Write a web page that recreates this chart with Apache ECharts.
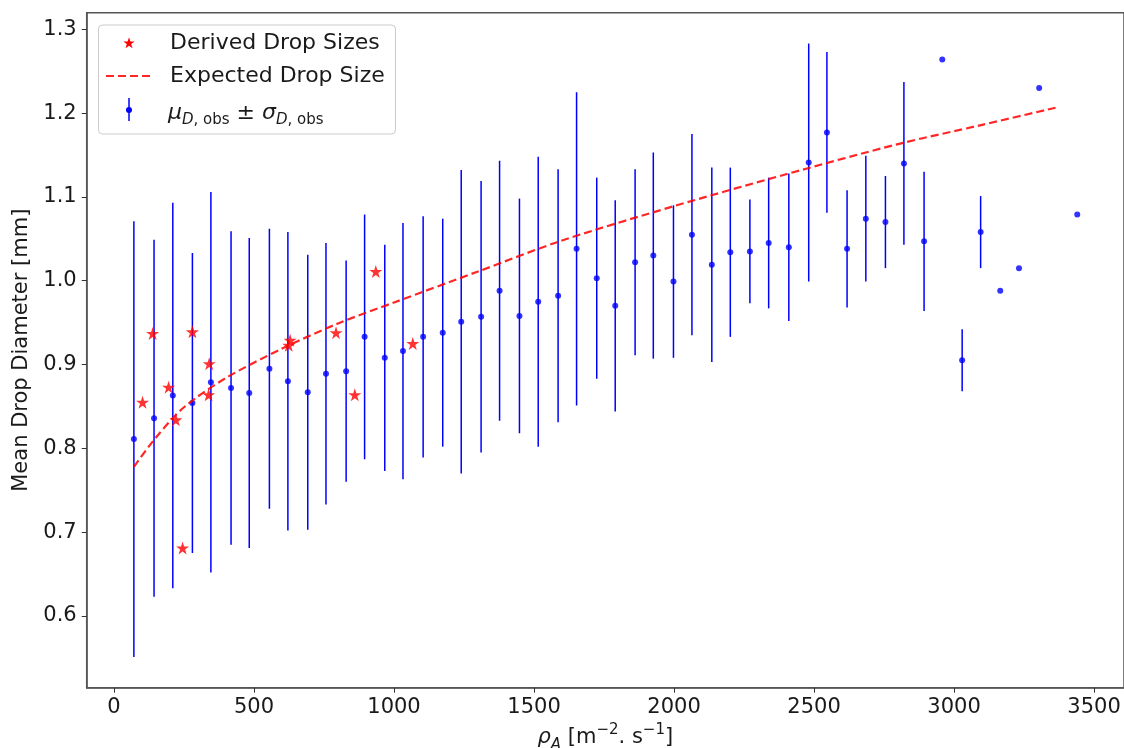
<!DOCTYPE html>
<html>
<head>
<meta charset="utf-8">
<script src="https://cdn.jsdelivr.net/npm/echarts@6/dist/echarts.min.js"></script>
<style>
html,body{margin:0;padding:0;background:#fff;}
#chart{width:1124px;height:748px;}
</style>
</head>
<body>
<div id="chart"></div>
<script>
// ---- data ----
const obsRho = [71,143,210,280,346,418,483,555,621,692,757,829,895,967,1032,1104,1174,1240,1311,1377,1448,1515,1586,1652,1724,1790,1861,1926,1998,2064,2135,2201,2271,2338,2410,2481,2546,2618,2685,2755,2821,2893,2958,3029,3095,3165,3232,3304,3440];
const obsMean = [0.811,0.836,0.863,0.854,0.879,0.872,0.866,0.895,0.880,0.867,0.889,0.892,0.933,0.908,0.916,0.933,0.938,0.951,0.957,0.988,0.958,0.975,0.982,1.038,1.003,0.970,1.022,1.030,0.999,1.055,1.019,1.034,1.035,1.045,1.040,1.141,1.177,1.038,1.074,1.070,1.140,1.047,1.264,0.905,1.058,0.988,1.015,1.230,1.079];
const obsStd = [0.260,0.213,0.230,0.179,0.227,0.187,0.185,0.167,0.178,0.164,0.156,0.132,0.146,0.135,0.153,0.144,0.136,0.181,0.162,0.155,0.140,0.173,0.151,0.187,0.120,0.126,0.111,0.123,0.091,0.120,0.116,0.101,0.062,0.078,0.088,0.142,0.096,0.070,0.075,0.055,0.097,0.083,0,0.037,0.043,0,0,0,0];

const derivedRho = [102,138,195,221,245,280,338,340,624,629,793,860,935,1067];
const derivedD = [0.855,0.937,0.873,0.834,0.681,0.939,0.864,0.901,0.923,0.929,0.938,0.864,1.011,0.925];

const expRho = [71,150,250,400,600,800,1000,1300,1600,2000,2400,2800,3100,3370];
const expD = [0.778,0.813,0.849,0.884,0.919,0.949,0.974,1.011,1.048,1.089,1.127,1.163,1.186,1.207];

const xTicks = [0,500,1000,1500,2000,2500,3000,3500];
const yTicks = [0.6,0.7,0.8,0.9,1.0,1.1,1.2,1.3];

const legendLabels = ['Derived Drop Sizes','Expected Drop Size'];

// ---- build ----
const FONT = 'DejaVu Sans';
const TXT = '#1a1a1a';
const STAR_PTS = [[50,0],[61.23,34.55],[97.55,34.55],[68.17,55.9],[79.39,90.45],[50,69.1],[20.61,90.45],[31.83,55.9],[2.45,34.55],[38.77,34.55]];
const STAR = 'path://M' + STAR_PTS.map(p=>p.join(',')).join(' L') + ' Z';
function starAt(cx, cy, size){
  const k = size/100;
  return STAR_PTS.map(p=>[cx + (p[0]-50)*k, cy + (p[1]-47)*k]);
}

const errData = obsRho.map((x,i)=>[x, obsMean[i]-obsStd[i], obsMean[i]+obsStd[i], obsStd[i]]);
const meanData = obsRho.map((x,i)=>[x, obsMean[i]]);
const starData = derivedRho.map((x,i)=>[x, derivedD[i]]);
const lineData = expRho.map((x,i)=>[x, expD[i]]);

const chart = echarts.init(document.getElementById('chart'), null, {renderer:'canvas'});

const subStyle = {fontFamily:FONT, fontSize:15, color:TXT, verticalAlign:'bottom', lineHeight:14};
const subItal = Object.assign({}, subStyle, {fontStyle:'italic'});

const option = {
  backgroundColor:'#fff',
  animation:false,
  grid:{left:86.7, right:0, top:12.7, bottom:60.3, containLabel:false, outerBoundsMode:'none',
        show:true, borderColor:'#555', borderWidth:1.5, backgroundColor:'transparent'},
  xAxis:{
    type:'value', min:-97.5, max:3607,
    name:'{i|ρ}{si|A}{n| [m}{sup|−2}{n|. s}{sup|−1}{n|]}',
    nameLocation:'middle', nameGap:33,
    nameTextStyle:{
      fontFamily:FONT, fontSize:21, color:TXT, lineHeight:30,
      rich:{
        i:{fontFamily:FONT, fontSize:21, fontStyle:'italic', color:TXT, lineHeight:30},
        n:{fontFamily:FONT, fontSize:21, color:TXT, lineHeight:30},
        si:{fontFamily:FONT, fontSize:15, fontStyle:'italic', color:TXT, verticalAlign:'bottom', lineHeight:14},
        sup:{fontFamily:FONT, fontSize:15, color:TXT, verticalAlign:'top', lineHeight:14}
      }
    },
    axisLine:{show:true, onZero:false, lineStyle:{color:'#555', width:1.5}},
    axisTick:{show:true, length:5, lineStyle:{color:'#333', width:1}, customValues:xTicks},
    axisLabel:{fontFamily:FONT, fontSize:21, color:TXT, margin:9, customValues:xTicks, formatter:v=>String(v)},
    splitLine:{show:false}
  },
  yAxis:{
    type:'value', min:0.5144, max:1.3198,
    name:'Mean Drop Diameter [mm]',
    nameLocation:'middle', nameGap:52,
    nameTextStyle:{fontFamily:FONT, fontSize:21, color:TXT},
    axisLine:{show:true, onZero:false, lineStyle:{color:'#555', width:1.5}},
    axisTick:{show:true, length:5, lineStyle:{color:'#333', width:1}, customValues:yTicks},
    axisLabel:{fontFamily:FONT, fontSize:21, color:TXT, margin:10, customValues:yTicks, formatter:v=>v.toFixed(1)},
    splitLine:{show:false}
  },
  series:[
    {
      type:'custom', name:'err', data:errData, z:2,
      encode:{x:0, y:[1,2]},
      renderItem:function(params, api){
        if (api.value(3) <= 0) return {type:'group', children:[]};
        const p1 = api.coord([api.value(0), api.value(1)]);
        const p2 = api.coord([api.value(0), api.value(2)]);
        return {type:'line', shape:{x1:p1[0], y1:p1[1], x2:p2[0], y2:p2[1]}, style:{stroke:'#0000ff', lineWidth:1.5}};
      }
    },
    {
      type:'scatter', name:'mean', data:meanData, z:3,
      symbol:'circle', symbolSize:6,
      itemStyle:{color:'#0000ff'}
    },
    {
      type:'line', name:legendLabels[1], data:lineData, z:4,
      smooth:0.3, showSymbol:false, symbol:'none',
      lineStyle:{color:'#ff0000', opacity:0.85, width:2.2, type:[8,4]}
    },
    {
      type:'scatter', name:legendLabels[0], data:starData, z:5,
      symbol:STAR, symbolSize:13,
      itemStyle:{color:'#ff0000'}
    }
  ],
  graphic:[
    {type:'rect', z:100, shape:{x:98.5, y:25, width:297, height:109, r:4},
     style:{fill:'rgba(255,255,255,0.85)', stroke:'#cccccc', lineWidth:1}},
    {type:'polygon', z:101, shape:{points:starAt(129, 43, 12)}, style:{fill:'#ff0000'}},
    {type:'line', z:101, shape:{x1:106, y1:76, x2:151, y2:76},
     style:{stroke:'#ff0000', opacity:0.85, lineWidth:2.2, lineDash:[8,4]}},
    {type:'line', z:101, shape:{x1:129, y1:98, x2:129, y2:121},
     style:{stroke:'#0000ff', lineWidth:1.5}},
    {type:'circle', z:101, shape:{cx:129, cy:110, r:3}, style:{fill:'#0000ff'}},
    {type:'text', z:101, x:170, y:43,
     style:{text:legendLabels[0], fontFamily:FONT, fontSize:22, fill:TXT, verticalAlign:'middle', align:'left'}},
    {type:'text', z:101, x:170, y:76,
     style:{text:legendLabels[1], fontFamily:FONT, fontSize:22, fill:TXT, verticalAlign:'middle', align:'left'}},
    {type:'text', z:101, x:168, y:113,
     style:{
       text:'{i|μ}{si|D}{s|, obs}{n| ± }{i|σ}{si|D}{s|, obs}',
       fontFamily:FONT, fontSize:22, fill:TXT, verticalAlign:'middle', align:'left',
       rich:{
         i:{fontFamily:FONT, fontSize:22, fontStyle:'italic', fill:TXT, lineHeight:30},
         n:{fontFamily:FONT, fontSize:22, fill:TXT, lineHeight:30},
         si:subItal,
         s:subStyle
       }
     }}
  ]
};
chart.setOption(option);
</script>
</body>
</html>
